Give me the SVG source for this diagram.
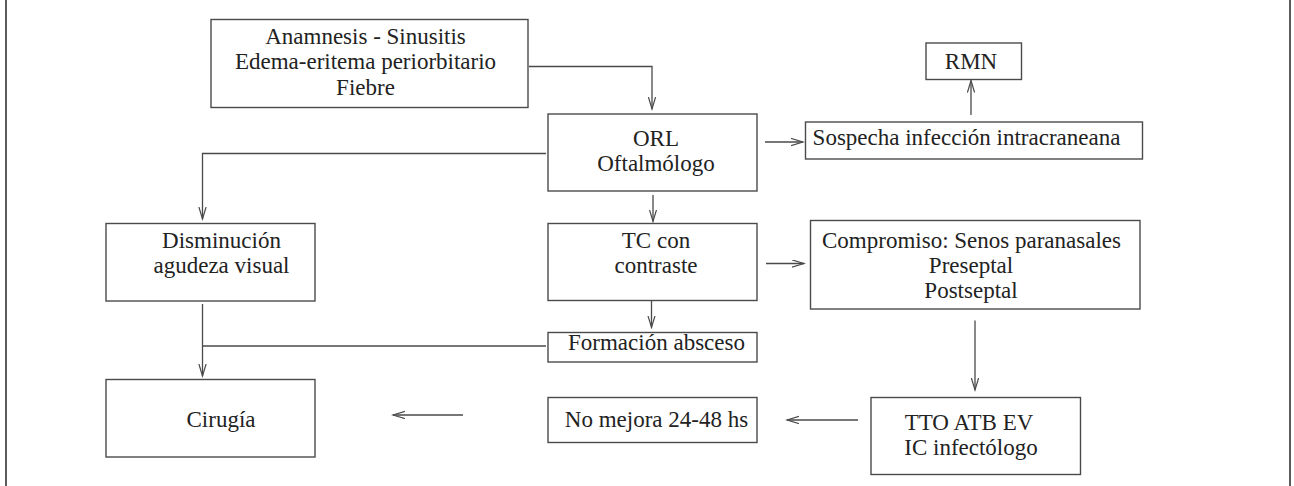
<svg xmlns="http://www.w3.org/2000/svg" width="1294" height="486" viewBox="0 0 1294 486">
<style>
.box{fill:#fff;stroke:#4a4a4a;stroke-width:1.4}
.t{font-family:"Liberation Serif","Times New Roman",serif;font-size:23px;fill:#222;text-anchor:middle}
.c{fill:none;stroke:#4a4a4a;stroke-width:1.3}
.frame{stroke:#333;stroke-width:1.6}
</style>
<defs>
<marker id="arr" markerUnits="userSpaceOnUse" markerWidth="14" markerHeight="10" refX="12" refY="4" orient="auto">
<path d="M0,0.4 L12,4 L0,7.6" fill="none" stroke="#4a4a4a" stroke-width="1.2"/>
</marker>
</defs>
<rect width="1294" height="486" fill="#fff"/>
<line class="frame" x1="6" y1="0" x2="6" y2="486"/>
<line class="frame" x1="1290" y1="0" x2="1290" y2="486"/>

<g id="connectors">
<path class="c" d="M529,66.5 H652 V109" marker-end="url(#arr)"/>
<path class="c" d="M765,142 H803" marker-end="url(#arr)"/>
<path class="c" d="M971,115 V80.5" marker-end="url(#arr)"/>
<path class="c" d="M546,153.5 H202.5 V219" marker-end="url(#arr)"/>
<path class="c" d="M653,195 V221.5" marker-end="url(#arr)"/>
<path class="c" d="M766,263.5 H804" marker-end="url(#arr)"/>
<path class="c" d="M651.5,301 V327.5" marker-end="url(#arr)"/>
<path class="c" d="M202.5,304 V376" marker-end="url(#arr)"/>
<path class="c" d="M546,346 H202.5"/>
<path class="c" d="M975,320.5 V390" marker-end="url(#arr)"/>
<path class="c" d="M858,420 H787" marker-end="url(#arr)"/>
<path class="c" d="M463,415 H393" marker-end="url(#arr)"/>
</g>

<g id="n-anamnesis">
<rect class="box" x="211" y="19.5" width="317" height="88"/>
<text class="t" x="365.5" y="43.5">Anamnesis - Sinusitis</text>
<text class="t" x="365.5" y="69">Edema-eritema periorbitario</text>
<text class="t" x="365.5" y="94.5">Fiebre</text>
</g>
<g id="n-orl">
<rect class="box" x="548" y="114" width="209" height="77"/>
<text class="t" x="656" y="146">ORL</text>
<text class="t" x="656" y="171">Oftalmólogo</text>
</g>
<g id="n-sospecha">
<rect class="box" x="805.5" y="122" width="337" height="37"/>
<text class="t" x="966.5" y="145">Sospecha infección intracraneana</text>
</g>
<g id="n-rmn">
<rect class="box" x="926" y="43" width="95.5" height="36.5"/>
<text class="t" x="971" y="69.3">RMN</text>
</g>
<g id="n-disminucion">
<rect class="box" x="106" y="223.5" width="209" height="77.5"/>
<text class="t" x="221.5" y="248.3">Disminución</text>
<text class="t" x="221.5" y="273.3">agudeza visual</text>
</g>
<g id="n-tc">
<rect class="box" x="548" y="223.5" width="209" height="77"/>
<text class="t" x="656" y="248.3">TC con</text>
<text class="t" x="656" y="273.3">contraste</text>
</g>
<g id="n-compromiso">
<rect class="box" x="810.5" y="220.5" width="329.5" height="88.5"/>
<text class="t" x="971.5" y="248.3">Compromiso: Senos paranasales</text>
<text class="t" x="971" y="273.3">Preseptal</text>
<text class="t" x="971" y="298.3">Postseptal</text>
</g>
<g id="n-formacion">
<rect class="box" x="548" y="332.5" width="209" height="29.5"/>
<text class="t" x="656.5" y="350">Formación absceso</text>
</g>
<g id="n-cirugia">
<rect class="box" x="106" y="379.5" width="209" height="77.5"/>
<text class="t" x="221" y="427.3">Cirugía</text>
</g>
<g id="n-nomejora">
<rect class="box" x="548" y="397.5" width="209" height="45"/>
<text class="t" x="656.5" y="426.7">No mejora 24-48 hs</text>
</g>
<g id="n-tto">
<rect class="box" x="871" y="397.5" width="209.5" height="77"/>
<text class="t" x="969" y="430">TTO ATB EV</text>
<text class="t" x="971" y="454.5">IC infectólogo</text>
</g>
</svg>
